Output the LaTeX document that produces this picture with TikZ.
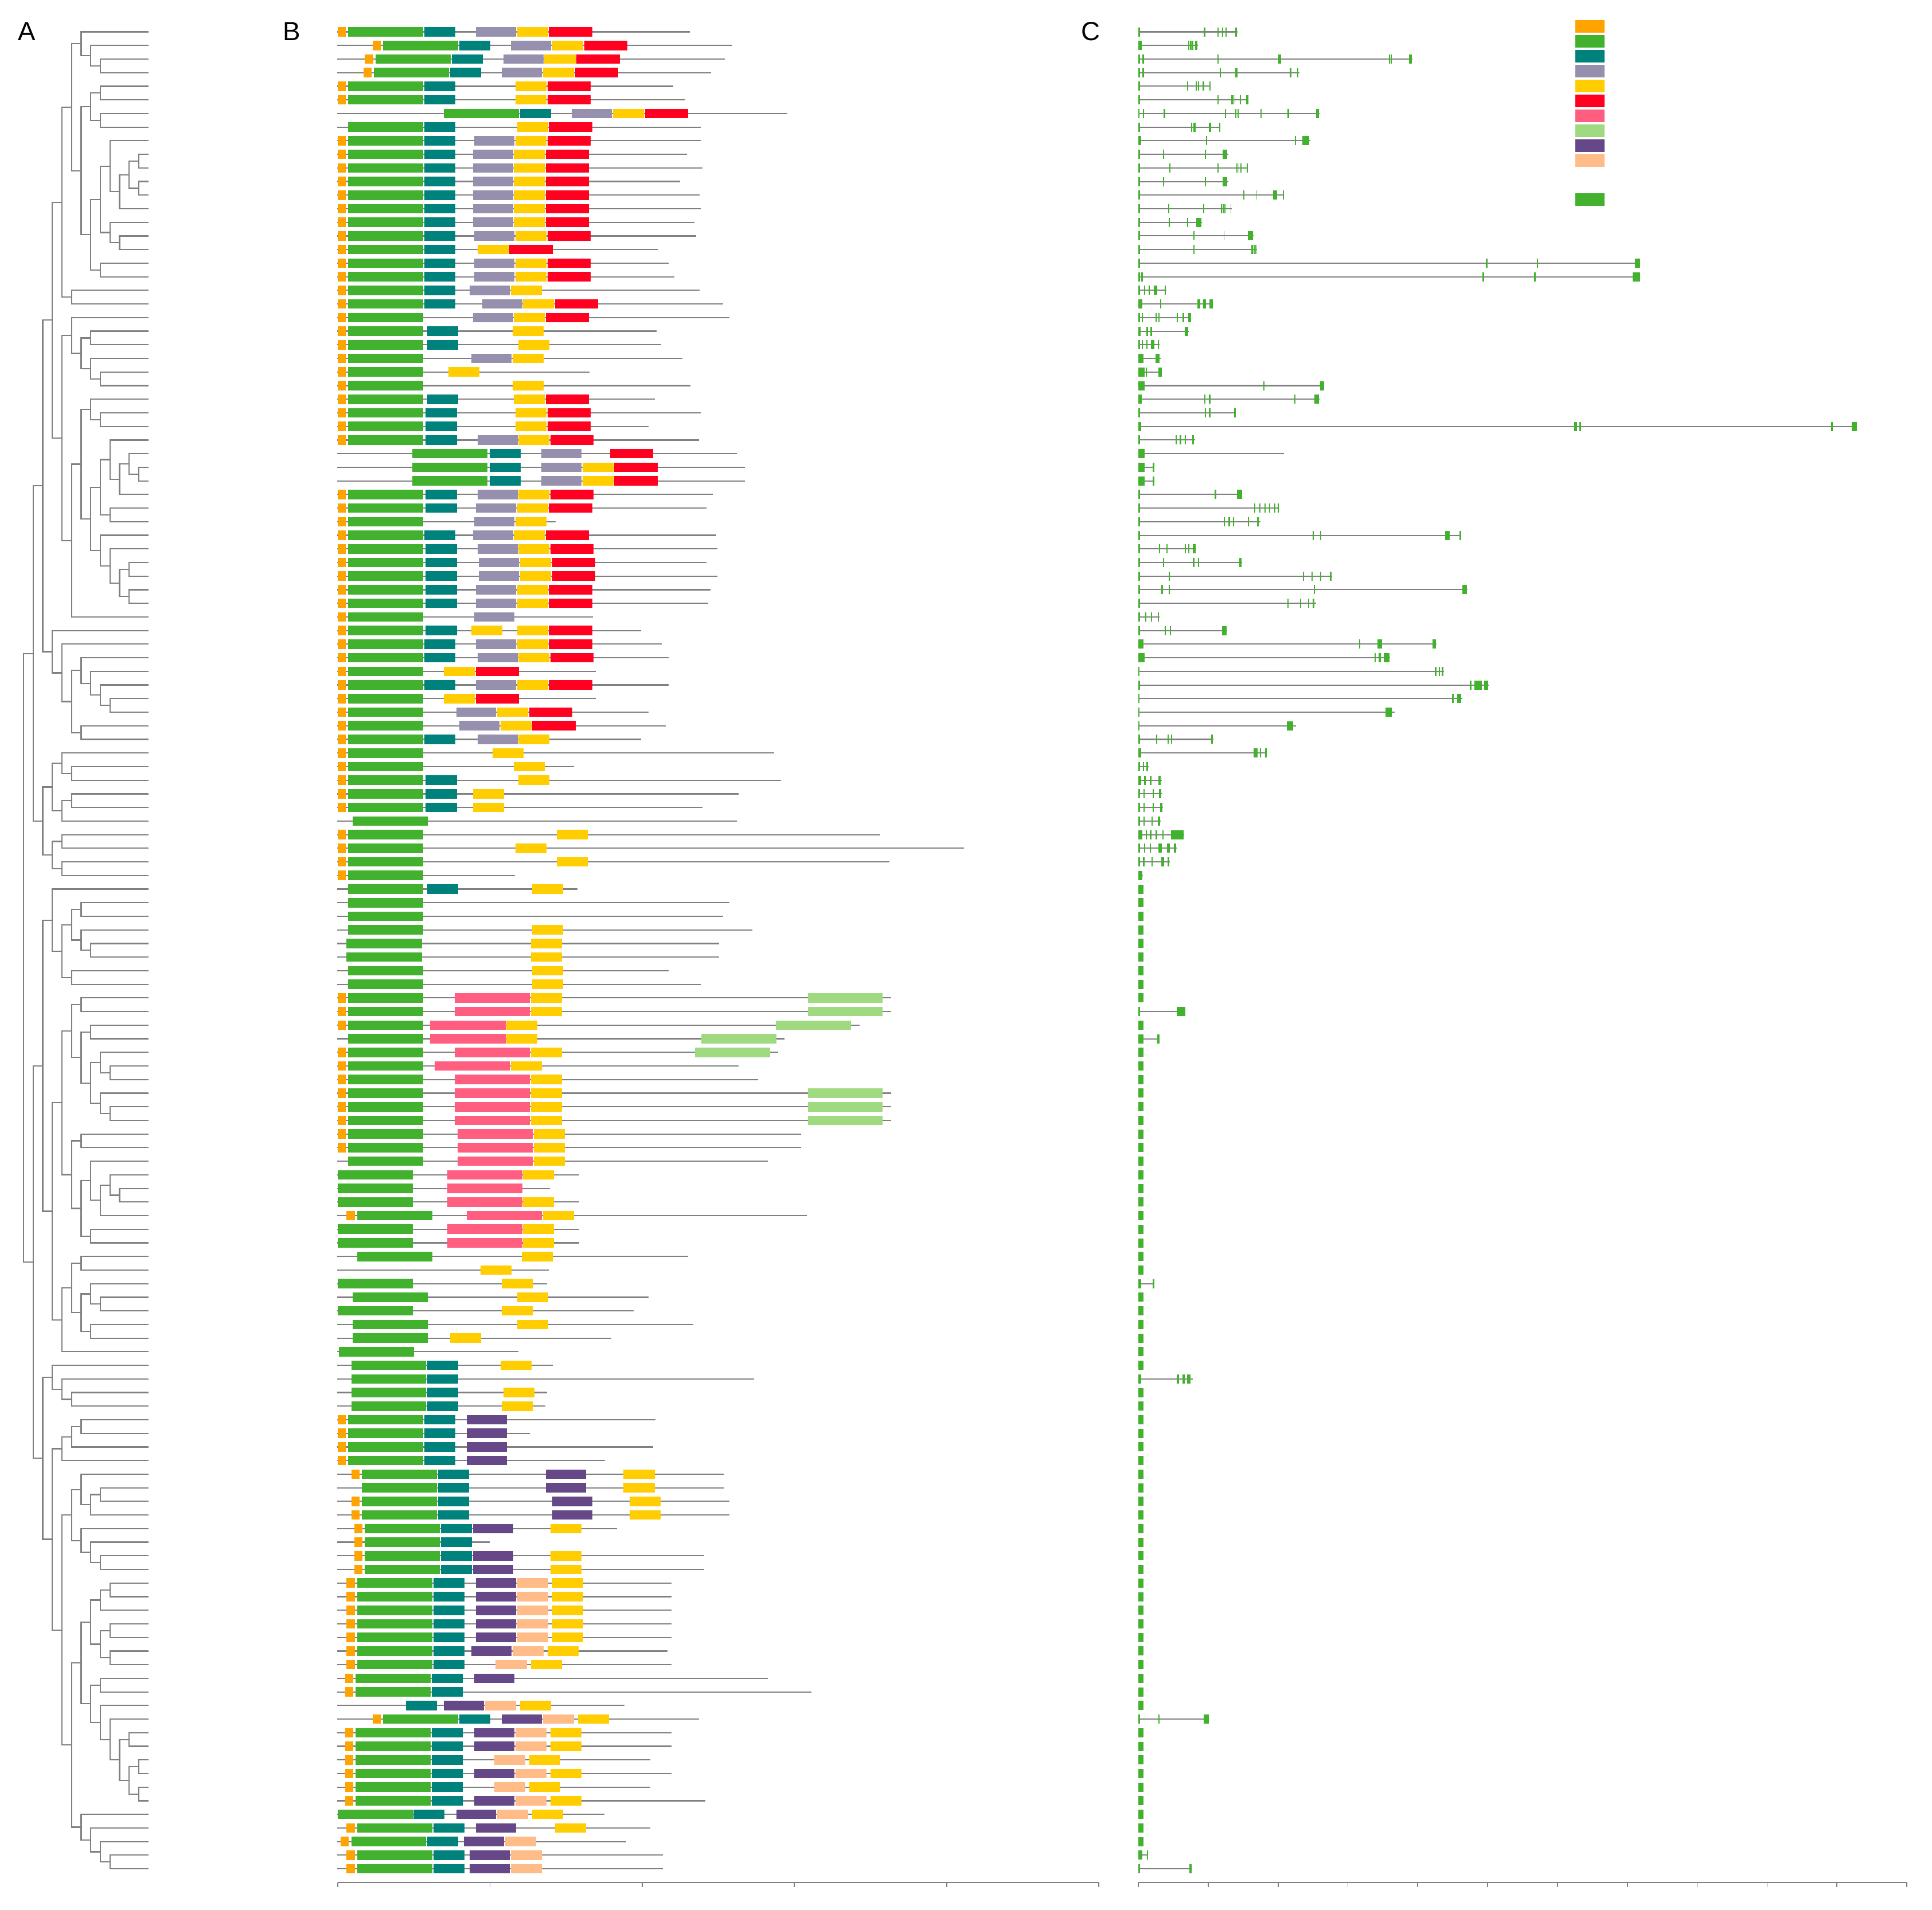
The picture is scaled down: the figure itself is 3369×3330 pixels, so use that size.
\documentclass[tikz,border=0pt]{standalone}
\usepackage{fontspec}
\setmainfont{Liberation Sans}
\usetikzlibrary{calc}
\definecolor{or}{RGB}{255,163,0}
\definecolor{gr}{RGB}{66,178,46}
\definecolor{te}{RGB}{0,130,124}
\definecolor{gy}{RGB}{150,144,174}
\definecolor{ye}{RGB}{255,205,0}
\definecolor{re}{RGB}{255,0,32}
\definecolor{pk}{RGB}{255,94,128}
\definecolor{lg}{RGB}{160,218,128}
\definecolor{pu}{RGB}{102,72,136}
\definecolor{pe}{RGB}{255,187,136}
\tikzset{
    branch/.style = {
        draw = gray,
        line width = 0.62pt,
        },
    backbone/.style = {
        draw = gray,
        line width = 0.62pt,
        },
    intron/.style = {
        draw = gray,
        line width = 0.58pt,
        },
    exon/.style = {
        fill = gr,
        },
    axis/.style = {
        draw = gray,
        line width = 0.5pt,
        },
    panel label/.style = {
        anchor = base west,
        inner sep = 0pt,
        font = \fontsize{13}{15}\selectfont,
        },
}
% one clade: name, level, upper child, lower child
\newcommand{\clade}[4]{%
  \path let \p1=(#3), \p2=(#4), \p3=({41+16.75*#2},0) in
    coordinate (#1) at (\x3,{0.5*(\y1+\y2)});
  \draw[branch] (#3) -| (#1) |- (#4);
}
\newcommand{\prot}[3]{%
  \pgfmathsetmacro{\ry}{55.5+23.73*(#1-1)}
  \draw[backbone] (588,\ry) -- (#2,\ry);
  \foreach \dc/\da/\db in {#3}
    \fill[\dc] (\da,\ry-8.3) rectangle (\db,\ry+8.3);
}
\newcommand{\gene}[3]{%
  \pgfmathsetmacro{\ry}{55.5+23.73*(#1-1)}
  \draw[intron] (1985,\ry) -- (#2,\ry);
  \foreach \ea/\eb in {#3}
    \fill[exon] (\ea,\ry-8) rectangle (\eb,\ry+8);
}
\begin{document}
\begin{tikzpicture}[x=0.1mm, y=-0.1mm]
\useasboundingbox (0,0) rectangle (3369,3330);

\node[panel label] (lblA) at (31,70) {A};
\node[panel label] (lblB) at (493,70) {B};
\node[panel label] (lblC) at (1885,70) {C};

% tree
\foreach \i in {1,...,136}
  \coordinate (l\i) at (258.75,{55.5+23.73*(\i-1)});
\clade{p3}{8}{l3}{l4}
\clade{p2}{7}{l2}{p3}
\clade{P1a}{6}{l1}{p2}
\clade{k1}{8}{l5}{l6}
\clade{k2}{8}{l7}{l8}
\clade{P1b1}{7}{k1}{k2}
\clade{k9}{12}{l10}{l11}
\clade{k10}{12}{l12}{l13}
\clade{k8}{11}{k9}{k10}
\clade{k7}{10}{k8}{l14}
\clade{k5}{9}{l9}{k7}
\clade{k11}{10}{l16}{l17}
\clade{k6}{9}{l15}{k11}
\clade{k3}{8}{k5}{k6}
\clade{k4}{8}{l18}{l19}
\clade{P1b2}{7}{k3}{k4}
\clade{P1b}{6}{P1b1}{P1b2}
\clade{P1}{5}{P1a}{P1b}
\clade{P2}{5}{l20}{l21}
\clade{P}{4}{P1}{P2}
\clade{q2}{7}{l23}{l24}
\clade{q4}{8}{l26}{l27}
\clade{q3}{7}{l25}{q4}
\clade{q1}{6}{q2}{q3}
\clade{Q1}{5}{l22}{q1}
\clade{q8}{8}{l29}{l30}
\clade{q6}{7}{l28}{q8}
\clade{q15}{12}{l33}{l34}
\clade{q14}{11}{l32}{q15}
\clade{q13}{10}{q14}{l35}
\clade{q11}{9}{l31}{q13}
\clade{q12}{9}{l36}{l37}
\clade{q9}{8}{q11}{q12}
\clade{q18}{11}{l40}{l41}
\clade{q19}{11}{l42}{l43}
\clade{q17}{10}{q18}{q19}
\clade{q16}{9}{l39}{q17}
\clade{q10}{8}{l38}{q16}
\clade{q7}{7}{q9}{q10}
\clade{q5}{6}{q6}{q7}
\clade{Q2}{5}{q5}{l44}
\clade{Q}{4}{Q1}{Q2}
\clade{A1a}{3}{P}{Q}
\clade{r7}{9}{l50}{l51}
\clade{r6}{8}{l49}{r7}
\clade{r5}{7}{l48}{r6}
\clade{r3}{6}{l47}{r5}
\clade{r4}{6}{l52}{l53}
\clade{r2}{5}{r3}{r4}
\clade{r1}{4}{l46}{r2}
\clade{A1b}{3}{l45}{r1}
\clade{A1}{2}{A1a}{A1b}
\clade{s5}{5}{l55}{l56}
\clade{s3}{4}{l54}{s5}
\clade{s6}{5}{l57}{l58}
\clade{s4}{4}{s6}{l59}
\clade{s1}{3}{s3}{s4}
\clade{s7}{4}{l60}{l61}
\clade{s8}{4}{l62}{l63}
\clade{s2}{3}{s7}{s8}
\clade{A2}{2}{s1}{s2}
\clade{A}{1}{A1}{A2}
\clade{t4}{6}{l65}{l66}
\clade{t6}{7}{l68}{l69}
\clade{t5}{6}{l67}{t6}
\clade{t2}{5}{t4}{t5}
\clade{t3}{5}{l70}{l71}
\clade{t1}{4}{t2}{t3}
\clade{B1a}{3}{l64}{t1}
\clade{u5}{6}{l72}{l73}
\clade{u7}{7}{l74}{l75}
\clade{u11}{9}{l77}{l78}
\clade{u9}{8}{l76}{u11}
\clade{u12}{9}{l80}{l81}
\clade{u10}{8}{l79}{u12}
\clade{u8}{7}{u9}{u10}
\clade{u6}{6}{u7}{u8}
\clade{u3}{5}{u5}{u6}
\clade{u13}{6}{l82}{l83}
\clade{u19}{10}{l86}{l87}
\clade{u18}{9}{l85}{u19}
\clade{u17}{8}{u18}{l88}
\clade{u15}{7}{l84}{u17}
\clade{u16}{7}{l89}{l90}
\clade{u14}{6}{u15}{u16}
\clade{u4}{5}{u13}{u14}
\clade{u1}{4}{u3}{u4}
\clade{u21}{6}{l91}{l92}
\clade{u25}{8}{l94}{l95}
\clade{u23}{7}{l93}{u25}
\clade{u24}{7}{l96}{l97}
\clade{u22}{6}{u23}{u24}
\clade{u20}{5}{u21}{u22}
\clade{u2}{4}{u20}{l98}
\clade{B1b}{3}{u1}{u2}
\clade{B1}{2}{B1a}{B1b}
\clade{v2}{5}{l101}{l102}
\clade{v1}{4}{l100}{v2}
\clade{B2a}{3}{l99}{v1}
\clade{w4}{6}{l103}{l104}
\clade{w3}{5}{w4}{l105}
\clade{w1}{4}{w3}{l106}
\clade{w10}{8}{l108}{l109}
\clade{w9}{7}{w10}{l110}
\clade{w7}{6}{l107}{w9}
\clade{w12}{8}{l113}{l114}
\clade{w11}{7}{l112}{w12}
\clade{w8}{6}{l111}{w11}
\clade{w5}{5}{w7}{w8}
\clade{w19}{9}{l115}{l116}
\clade{w17}{8}{w19}{l117}
\clade{w20}{9}{l118}{l119}
\clade{w21}{9}{l120}{l121}
\clade{w18}{8}{w20}{w21}
\clade{w15}{7}{w17}{w18}
\clade{w22}{8}{l122}{l123}
\clade{w26}{11}{l126}{l127}
\clade{w28}{12}{l128}{l129}
\clade{w29}{12}{l130}{l131}
\clade{w27}{11}{w28}{w29}
\clade{w25}{10}{w26}{w27}
\clade{w24}{9}{l125}{w25}
\clade{w23}{8}{l124}{w24}
\clade{w16}{7}{w22}{w23}
\clade{w13}{6}{w15}{w16}
\clade{w32}{9}{l135}{l136}
\clade{w31}{8}{l134}{w32}
\clade{w30}{7}{l133}{w31}
\clade{w14}{6}{l132}{w30}
\clade{w6}{5}{w13}{w14}
\clade{w2}{4}{w5}{w6}
\clade{B2b}{3}{w1}{w2}
\clade{B2}{2}{B2a}{B2b}
\clade{B}{1}{B1}{B2}
\clade{root}{0}{A}{B}

% domains
\prot{1}{1203}{or/589/603,gr/607/738,te/740/794,gy/830/900,ye/902/956,re/957/1033}
\prot{2}{1277}{or/650/664,gr/668/799,te/801/855,gy/891/961,ye/963/1017,re/1019/1094}
\prot{3}{1264}{or/636/651,gr/655/786,te/788/842,gy/878/948,ye/949/1004,re/1005/1081}
\prot{4}{1240}{or/634/648,gr/652/783,te/785/839,gy/875/945,ye/947/1001,re/1003/1078}
\prot{5}{1174}{or/589/603,gr/607/738,te/740/794,ye/899/953,re/955/1030}
\prot{6}{1195}{or/589/603,gr/607/738,te/740/794,ye/899/953,re/955/1030}
\prot{7}{1373}{gr/774/905,te/907/961,gy/997/1067,ye/1069/1123,re/1125/1200}
\prot{8}{1222}{gr/607/738,te/740/794,ye/902/956,re/957/1033}
\prot{9}{1222}{or/589/603,gr/607/738,te/740/794,gy/827/897,ye/899/953,re/955/1030}
\prot{10}{1198}{or/589/603,gr/607/738,te/740/794,gy/825/895,ye/896/950,re/952/1027}
\prot{11}{1225}{or/589/603,gr/607/738,te/740/794,gy/825/895,ye/896/950,re/952/1027}
\prot{12}{1186}{or/589/603,gr/607/738,te/740/794,gy/825/895,ye/896/950,re/952/1027}
\prot{13}{1220}{or/589/603,gr/607/738,te/740/794,gy/825/895,ye/896/950,re/952/1027}
\prot{14}{1222}{or/589/603,gr/607/738,te/740/794,gy/825/895,ye/896/950,re/952/1027}
\prot{15}{1211}{or/589/603,gr/607/738,te/740/794,gy/825/895,ye/896/950,re/952/1027}
\prot{16}{1214}{or/589/603,gr/607/738,te/740/794,gy/827/897,ye/899/953,re/955/1030}
\prot{17}{1147}{or/589/603,gr/607/738,te/740/794,ye/833/887,re/888/964}
\prot{18}{1166}{or/589/603,gr/607/738,te/740/794,gy/827/897,ye/899/953,re/955/1030}
\prot{19}{1176}{or/589/603,gr/607/738,te/740/794,gy/827/897,ye/899/953,re/955/1030}
\prot{20}{1220}{or/589/603,gr/607/738,te/740/794,gy/819/889,ye/891/945}
\prot{21}{1261}{or/589/603,gr/607/738,te/740/794,gy/841/911,ye/912/966,re/968/1043}
\prot{22}{1272}{or/589/603,gr/607/738,gy/825/895,ye/896/950,re/952/1027}
\prot{23}{1145}{or/589/603,gr/607/738,te/745/799,ye/894/948}
\prot{24}{1153}{or/589/603,gr/607/738,te/745/799,ye/904/958}
\prot{25}{1190}{or/589/603,gr/607/738,gy/822/892,ye/894/948}
\prot{26}{1028}{or/589/603,gr/607/738,ye/782/836}
\prot{27}{1204}{or/589/603,gr/607/738,ye/894/948}
\prot{28}{1142}{or/589/603,gr/607/738,te/745/799,ye/896/950,re/952/1027}
\prot{29}{1222}{or/589/603,gr/607/738,te/742/797,ye/899/953,re/955/1030}
\prot{30}{1131}{or/589/603,gr/607/738,te/742/797,ye/899/953,re/955/1030}
\prot{31}{1219}{or/589/603,gr/607/738,te/742/797,gy/833/903,ye/904/958,re/960/1035}
\prot{32}{1285}{gr/719/850,te/854/908,gy/944/1014,re/1064/1139}
\prot{33}{1299}{gr/719/850,te/854/908,gy/944/1014,ye/1016/1070,re/1071/1147}
\prot{34}{1299}{gr/719/850,te/854/908,gy/944/1014,ye/1016/1070,re/1071/1147}
\prot{35}{1243}{or/589/603,gr/607/738,te/742/797,gy/833/903,ye/904/958,re/960/1035}
\prot{36}{1232}{or/589/603,gr/607/738,te/742/797,gy/830/900,ye/902/956,re/957/1033}
\prot{37}{969}{or/589/603,gr/607/738,gy/827/897,ye/899/953}
\prot{38}{1249}{or/589/603,gr/607/738,te/740/794,gy/825/895,ye/896/950,re/952/1027}
\prot{39}{1251}{or/589/603,gr/607/738,te/742/797,gy/833/903,ye/904/958,re/960/1035}
\prot{40}{1232}{or/589/603,gr/607/738,te/742/797,gy/835/905,ye/907/961,re/963/1038}
\prot{41}{1251}{or/589/603,gr/607/738,te/742/797,gy/835/905,ye/907/961,re/963/1038}
\prot{42}{1239}{or/589/603,gr/607/738,te/742/797,gy/830/900,ye/902/956,re/957/1033}
\prot{43}{1235}{or/589/603,gr/607/738,te/742/797,gy/830/900,ye/902/956,re/957/1033}
\prot{44}{1034}{or/589/603,gr/607/738,gy/827/897}
\prot{45}{1118}{or/589/603,gr/607/738,te/742/797,ye/822/876,ye/902/956,re/957/1033}
\prot{46}{1154}{or/589/603,gr/607/738,te/740/794,gy/830/900,ye/902/956,re/957/1033}
\prot{47}{1166}{or/589/603,gr/607/738,te/740/794,gy/833/903,ye/904/958,re/960/1035}
\prot{48}{1039}{or/589/603,gr/607/738,ye/774/828,re/830/905}
\prot{49}{1166}{or/589/603,gr/607/738,te/740/794,gy/830/900,ye/902/956,re/957/1033}
\prot{50}{1039}{or/589/603,gr/607/738,ye/774/828,re/830/905}
\prot{51}{1131}{or/589/603,gr/607/738,gy/796/865,ye/867/921,re/923/998}
\prot{52}{1161}{or/589/603,gr/607/738,gy/801/871,ye/873/927,re/928/1004}
\prot{53}{1118}{or/589/603,gr/607/738,te/740/794,gy/833/903,ye/904/958}
\prot{54}{1350}{or/589/603,gr/607/738,ye/859/913}
\prot{55}{1001}{or/589/603,gr/607/738,ye/896/950}
\prot{56}{1362}{or/589/603,gr/607/738,te/742/797,ye/904/958}
\prot{57}{1288}{or/589/603,gr/607/738,te/742/797,ye/825/879}
\prot{58}{1225}{or/589/603,gr/607/738,te/742/797,ye/825/879}
\prot{59}{1285}{gr/615/746}
\prot{60}{1535}{or/589/603,gr/607/738,ye/971/1025}
\prot{61}{1681}{or/589/603,gr/607/738,ye/899/953}
\prot{62}{1551}{or/589/603,gr/607/738,ye/971/1025}
\prot{63}{898}{or/589/603,gr/607/738}
\prot{64}{1007}{gr/607/738,te/745/799,ye/928/982}
\prot{65}{1272}{gr/607/738}
\prot{66}{1261}{gr/607/738}
\prot{67}{1312}{gr/607/738,ye/928/982}
\prot{68}{1254}{gr/604/736,ye/926/980}
\prot{69}{1254}{gr/604/736,ye/926/980}
\prot{70}{1166}{gr/607/738,ye/928/982}
\prot{71}{1222}{gr/607/738,ye/928/982}
\prot{72}{1554}{or/589/603,gr/607/738,pk/793/924,ye/926/980,lg/1409/1539}
\prot{73}{1554}{or/589/603,gr/607/738,pk/793/924,ye/926/980,lg/1409/1539}
\prot{74}{1499}{or/589/603,gr/607/738,pk/750/882,ye/883/937,lg/1353/1484}
\prot{75}{1368}{gr/607/738,pk/750/882,ye/883/937,lg/1223/1354}
\prot{76}{1357}{or/589/603,gr/607/738,pk/793/924,ye/926/980,lg/1212/1343}
\prot{77}{1288}{or/589/603,gr/607/738,pk/758/889,ye/891/945}
\prot{78}{1322}{or/589/603,gr/607/738,pk/793/924,ye/926/980}
\prot{79}{1554}{or/589/603,gr/607/738,pk/793/924,ye/926/980,lg/1409/1539}
\prot{80}{1554}{or/589/603,gr/607/738,pk/793/924,ye/926/980,lg/1409/1539}
\prot{81}{1554}{or/589/603,gr/607/738,pk/793/924,ye/926/980,lg/1409/1539}
\prot{82}{1397}{or/589/603,gr/607/738,pk/798/929,ye/931/985}
\prot{83}{1397}{or/589/603,gr/607/738,pk/798/929,ye/931/985}
\prot{84}{1339}{gr/607/738,pk/798/929,ye/931/985}
\prot{85}{1010}{gr/589/720,pk/780/911,ye/912/966}
\prot{86}{959}{gr/589/720,pk/780/911}
\prot{87}{1010}{gr/589/720,pk/780/911,ye/912/966}
\prot{88}{1407}{or/604/619,gr/623/754,pk/814/945,ye/947/1001}
\prot{89}{1010}{gr/589/720,pk/780/911,ye/912/966}
\prot{90}{1010}{gr/589/720,pk/780/911,ye/912/966}
\prot{91}{1200}{gr/623/754,ye/910/964}
\prot{92}{957}{ye/838/892}
\prot{93}{954}{gr/589/720,ye/875/929}
\prot{94}{1131}{gr/615/746,ye/902/956}
\prot{95}{1105}{gr/589/720,ye/875/929}
\prot{96}{1209}{gr/615/746,ye/902/956}
\prot{97}{1066}{gr/615/746,ye/785/839}
\prot{98}{904}{gr/591/722}
\prot{99}{964}{gr/613/743,te/745/799,ye/873/927}
\prot{100}{1315}{gr/613/743,te/745/799}
\prot{101}{954}{gr/613/743,te/745/799,ye/878/932}
\prot{102}{951}{gr/613/743,te/745/799,ye/875/929}
\prot{103}{1143}{or/589/603,gr/607/738,te/740/794,pu/814/884}
\prot{104}{924}{or/589/603,gr/607/738,te/740/794,pu/814/884}
\prot{105}{1139}{or/589/603,gr/607/738,te/740/794,pu/814/884}
\prot{106}{1055}{or/589/603,gr/607/738,te/740/794,pu/814/884}
\prot{107}{1262}{or/613/627,gr/631/762,te/764/818,pu/952/1022,ye/1087/1142}
\prot{108}{1262}{gr/631/762,te/764/818,pu/952/1022,ye/1087/1142}
\prot{109}{1272}{or/613/627,gr/631/762,te/764/818,pu/963/1033,ye/1098/1152}
\prot{110}{1272}{or/613/627,gr/631/762,te/764/818,pu/963/1033,ye/1098/1152}
\prot{111}{1076}{or/618/632,gr/636/767,te/769/823,pu/825/895,ye/960/1014}
\prot{112}{854}{or/618/632,gr/636/767,te/769/823}
\prot{113}{1228}{or/618/632,gr/636/767,te/769/823,pu/825/895,ye/960/1014}
\prot{114}{1228}{or/618/632,gr/636/767,te/769/823,pu/825/895,ye/960/1014}
\foreach \r in {115,...,119}
  {\prot{\r}{1171}{or/604/619,gr/623/754,te/756/810,pu/830/900,pe/902/956,ye/963/1017}}
\prot{120}{1164}{or/604/619,gr/623/754,te/756/810,pu/822/892,pe/894/948,ye/955/1009}
\prot{121}{1171}{or/604/619,gr/623/754,te/756/810,pe/864/919,ye/926/980}
\prot{122}{1339}{or/602/616,gr/620/751,te/753/807,pu/827/897}
\prot{123}{1415}{or/602/616,gr/620/751,te/753/807}
\prot{124}{1089}{te/708/762,pu/774/844,pe/846/900,ye/907/961}
\prot{125}{1219}{or/650/664,gr/668/799,te/801/855,pu/875/945,pe/947/1001,ye/1008/1062}
\prot{126}{1171}{or/602/616,gr/620/751,te/753/807,pu/827/897,pe/899/953,ye/960/1014}
\prot{127}{1171}{or/602/616,gr/620/751,te/753/807,pu/827/897,pe/899/953,ye/960/1014}
\prot{128}{1134}{or/602/616,gr/620/751,te/753/807,pe/862/916,ye/923/977}
\prot{129}{1171}{or/602/616,gr/620/751,te/753/807,pu/827/897,pe/899/953,ye/960/1014}
\prot{130}{1134}{or/602/616,gr/620/751,te/753/807,pe/862/916,ye/923/977}
\prot{131}{1230}{or/602/616,gr/620/751,te/753/807,pu/827/897,pe/899/953,ye/960/1014}
\prot{132}{1054}{gr/589/720,te/721/775,pu/796/865,pe/867/921,ye/928/982}
\prot{133}{1134}{or/604/619,gr/623/754,te/756/810,pu/830/900,ye/968/1022}
\prot{134}{1092}{or/594/608,gr/613/743,te/745/799,pu/809/879,pe/881/935}
\prot{135}{1156}{or/604/619,gr/623/754,te/756/810,pu/819/889,pe/891/945}
\prot{136}{1156}{or/604/619,gr/623/754,te/756/810,pu/819/889,pe/891/945}

% gene structures
\gene{1}{2158}{1985/1988,2099/2102,2123/2125,2131/2133,2137/2139,2154/2157}
\gene{2}{2089}{1985/1991,2072/2074,2075/2078,2079/2081,2084/2088}
\gene{3}{2463}{1985/1988,1992/1995,2123/2125,2229/2234,2422/2424,2425/2427,2457/2462}
\gene{4}{2266}{1985/1988,1992/1995,2127/2129,2154/2158,2249/2252,2262/2264}
\gene{5}{2111}{1985/1988,2070/2072,2085/2087,2089/2091,2097/2100,2109/2111}
\gene{6}{2177}{1985/1988,2123/2125,2147/2151,2153/2154,2162/2164,2173/2177}
\gene{7}{2301}{1985/1987,1993/1995,2029/2032,2136/2138,2154/2156,2158/2160,2198/2200,2245/2248,2295/2300}
\gene{8}{2128}{1985/1988,2077/2079,2081/2085,2108/2112,2126/2128}
\gene{9}{2285}{1985/1990,2103/2105,2258/2260,2271/2283}
\gene{10}{2142}{1985/1988,2028/2030,2101/2103,2132/2140}
\gene{11}{2176}{1985/1988,2039/2041,2123/2125,2156/2158,2160/2161,2163/2165,2174/2176}
\gene{12}{2142}{1985/1988,2028/2030,2101/2103,2132/2140}
\gene{13}{2239}{1985/1988,2168/2170,2190/2191,2220/2227,2237/2239}
\gene{14}{2148}{1985/1988,2037/2039,2098/2100,2129/2131,2132/2134,2135/2137,2146/2147}
\gene{15}{2096}{1985/1988,2038/2040,2070/2072,2086/2095}
\gene{16}{2186}{1985/1988,2081/2083,2134/2135,2176/2185}
\gene{17}{2192}{1985/1988,2081/2083,2182/2185,2186/2188,2189/2191}
\gene{18}{2860}{1985/1988,2591/2594,2680/2682,2851/2860}
\gene{19}{2860}{1985/1988,1990/1993,2585/2588,2675/2678,2847/2860}
\gene{20}{2034}{1985/1988,1995/1997,2003/2005,2012/2018,2031/2033}
\gene{21}{2115}{1985/1992,2023/2025,2088/2093,2098/2103,2109/2115}
\gene{22}{2077}{1985/1988,1991/1993,2015/2017,2020/2022,2052/2054,2062/2065,2072/2077}
\gene{23}{2074}{1985/1989,1999/2002,2006/2009,2066/2072}
\gene{24}{2022}{1985/1988,1991/1993,1999/2001,2007/2013,2019/2021}
\gene{25}{2024}{1985/1994,2015/2022}
\gene{26}{2026}{1985/1996,1998/2000,2020/2026}
\gene{27}{2309}{1985/1996,2203/2205,2302/2309}
\gene{28}{2301}{1985/1991,2100/2102,2108/2111,2257/2259,2292/2300}
\gene{29}{2155}{1985/1988,2101/2103,2108/2111,2152/2155}
\gene{30}{3238}{1985/1990,2745/2750,2754/2757,3193/3196,3229/3238}
\gene{31}{2084}{1985/1988,2050/2052,2057/2060,2066/2068,2079/2082}
\gene{32}{2239}{1985/1996}
\gene{33}{2013}{1985/1996,2010/2013}
\gene{34}{2013}{1985/1996,2010/2013}
\gene{35}{2166}{1985/1988,2118/2121,2157/2166}
\gene{36}{2230}{1985/1988,2187/2189,2196/2198,2205/2207,2213/2215,2222/2224,2228/2230}
\gene{37}{2198}{1985/1988,2134/2136,2142/2145,2150/2152,2176/2178,2192/2195}
\gene{38}{2548}{1985/1988,2289/2291,2302/2304,2520/2528,2545/2548}
\gene{39}{2086}{1985/1988,2021/2023,2034/2036,2066/2068,2072/2074,2080/2085}
\gene{40}{2166}{1985/1988,2028/2030,2080/2083,2089/2091,2161/2165}
\gene{41}{2323}{1985/1988,2038/2040,2272/2274,2287/2289,2302/2304,2319/2322}
\gene{42}{2559}{1985/1988,2025/2028,2038/2040,2291/2293,2550/2558}
\gene{43}{2295}{1985/1988,2245/2247,2267/2269,2281/2283,2289/2292}
\gene{44}{2022}{1985/1988,1997/1999,2007/2009,2019/2021}
\gene{45}{2140}{1985/1988,2031/2033,2040/2042,2131/2139}
\gene{46}{2505}{1985/1994,2370/2372,2402/2410,2498/2504}
\gene{47}{2424}{1985/1996,2397/2399,2404/2408,2413/2423}
\gene{48}{2518}{1985/1987,2502/2505,2509/2511,2514/2517}
\gene{49}{2596}{1985/1988,2563/2566,2571/2584,2588/2595}
\gene{50}{2550}{1985/1987,2532/2535,2541/2548}
\gene{51}{2432}{1985/1987,2416/2427}
\gene{52}{2260}{1985/1987,2244/2255}
\gene{53}{2116}{1985/1988,2016/2018,2036/2038,2042/2044,2112/2115}
\gene{54}{2209}{1985/1990,2186/2193,2197/2199,2206/2209}
\gene{55}{2003}{1985/1988,1993/1995,1999/2002}
\gene{56}{2026}{1985/1990,1995/1998,2005/2008,2020/2024}
\gene{57}{2026}{1985/1988,1994/1996,2010/2012,2021/2025}
\gene{58}{2028}{1985/1988,1994/1996,2010/2012,2023/2027}
\gene{59}{2024}{1985/1988,1994/1996,2008/2010,2019/2023}
\gene{60}{2065}{1985/1992,1998/2000,2005/2008,2015/2018,2027/2029,2042/2064}
\gene{61}{2052}{1985/1988,1995/1997,2005/2007,2020/2026,2035/2040,2047/2051}
\gene{62}{2040}{1985/1988,1993/1996,2008/2010,2025/2030,2036/2039}
\gene{63}{1993}{1985/1992}
\foreach \r in {64,...,72,74,76,77,...,92,94,95,...,99,101,102,...,124,126,127,...,134}
  {\gene{\r}{1993}{1985/1994}}
\gene{73}{2067}{1985/1988,2052/2067}
\gene{75}{2022}{1985/1994,2018/2022}
\gene{93}{2013}{1985/1990,2010/2013}
\gene{100}{2080}{1985/1990,2052/2056,2062/2066,2070/2076}
\gene{125}{2108}{1985/1988,2020/2022,2099/2108}
\gene{135}{2002}{1985/1992,2000/2002}
\gene{136}{2079}{1985/1988,2074/2078}

% axes
\draw[axis] (589,3283) -- (1916,3283);
\foreach \k in {0,...,5}
  \draw[axis] ({589+265.4*\k},3283) -- ++(0,8);
\draw[axis] (1985,3283) -- (3325,3283);
\foreach \k in {0,...,11}
  \draw[axis] ({1985+121.82*\k},3283) -- ++(0,8);

% legend
\foreach \lc [count=\k from 0] in {or,gr,te,gy,ye,re,pk,lg,pu,pe}
  \fill[\lc] (2747,{35+26*\k}) rectangle (2798,{56.7+26*\k});
\fill[gr] (2747,337) rectangle (2798,359);
\end{tikzpicture}
\end{document}
